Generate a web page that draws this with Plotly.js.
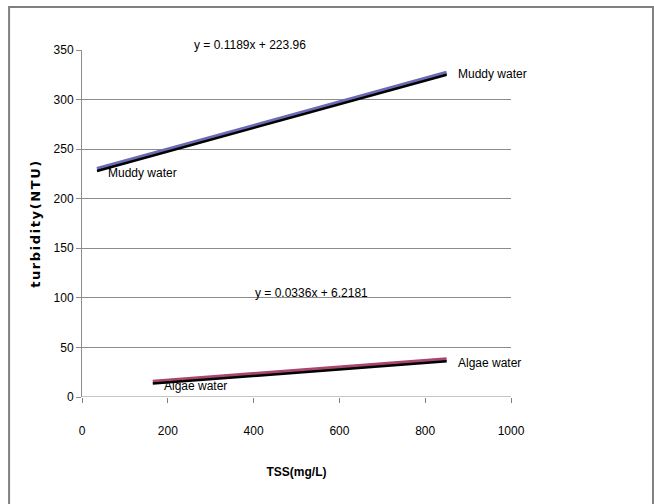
<!DOCTYPE html>
<html>
<head>
<meta charset="utf-8">
<script src="https://cdn.plot.ly/plotly-3.0.1.min.js"></script>
<style>html,body{margin:0;padding:0;background:#fff;}#chart{width:654px;height:504px;}</style>
</head>
<body>
<div id="chart"></div>
<script>
// Data
const muddyX = [35, 850];
const muddyY = [230, 327];
const muddyTrendX = [35, 850];
const muddyTrendY = [228, 325];
const algaeX = [165, 850];
const algaeY = [15.5, 38];
const algaeTrendX = [165, 850];
const algaeTrendY = [13.5, 36];
const muddyEq = "y = 0.1189x + 223.96";
const algaeEq = "y = 0.0336x + 6.2181";
const seriesNames = ["Muddy water", "Algae water"];
const xTicks = [0, 200, 400, 600, 800, 1000];
const yTicks = [0, 50, 100, 150, 200, 250, 300, 350];

const FONT = '"Liberation Sans", Arial, sans-serif';

const traces = [
  {x: muddyX, y: muddyY, mode: 'lines', line: {color: '#6B6BB5', width: 4}, name: seriesNames[0], hoverinfo: 'skip'},
  {x: muddyTrendX, y: muddyTrendY, mode: 'lines', line: {color: '#000000', width: 2.5}, name: 'trend', hoverinfo: 'skip'},
  {x: algaeX, y: algaeY, mode: 'lines', line: {color: '#A8466E', width: 4}, name: seriesNames[1], hoverinfo: 'skip'},
  {x: algaeTrendX, y: algaeTrendY, mode: 'lines', line: {color: '#000000', width: 2.5}, name: 'trend', hoverinfo: 'skip'}
];

const annFont = {family: FONT, size: 12, color: '#000'};
const layout = {
  width: 654, height: 504,
  margin: {l: 82, r: 143, t: 50, b: 107},
  paper_bgcolor: '#fff', plot_bgcolor: '#fff',
  showlegend: false,
  font: {family: FONT, size: 12, color: '#000'},
  xaxis: {
    range: [0, 1000], tickvals: xTicks, ticktext: xTicks.map(String),
    showgrid: false, zeroline: false, showline: false,
    ticks: 'outside', ticklen: 5, tickcolor: '#808080',
    ticklabelstandoff: 18,
    tickfont: {family: FONT, size: 12, color: '#000'},
    title: {text: '<b>TSS(mg/L)</b>', font: {family: FONT, size: 12, color: '#000'}, standoff: 30}
  },
  yaxis: {
    range: [0, 350], tickvals: yTicks, ticktext: yTicks.map(String),
    showgrid: true, gridcolor: '#8c8c8c', gridwidth: 1,
    zeroline: false, showline: true, linecolor: '#8c8c8c', linewidth: 1,
    ticks: 'outside', ticklen: 5, tickcolor: '#8c8c8c',
    tickfont: {family: FONT, size: 12, color: '#000'},
    title: {text: '<b>turbidity(NTU)</b>', font: {family: 'DejaVu Sans, sans-serif', size: 13, color: '#000'}, standoff: 10}
  },
  shapes: [
    {type: 'line', xref: 'x', yref: 'y', x0: 0, x1: 1000, y0: 0, y1: 0, line: {color: '#8c8c8c', width: 1}},
    {type: 'rect', xref: 'paper', yref: 'paper', x0: -0.170, x1: 1.331, y0: -0.4, y1: 1.124, line: {color: '#808080', width: 2}, fillcolor: 'rgba(0,0,0,0)', layer: 'below'}
  ],
  annotations: [
    {x: 392, y: 1.014, xref: 'x', yref: 'paper', text: muddyEq, showarrow: false, font: annFont, xanchor: 'center', yanchor: 'middle'},
    {x: 536, y: 105, xref: 'x', yref: 'y', text: algaeEq, showarrow: false, font: annFont, xanchor: 'center', yanchor: 'middle'},
    {x: 872, y: 326, xref: 'x', yref: 'y', text: seriesNames[0], showarrow: false, font: annFont, xanchor: 'left', yanchor: 'middle'},
    {x: 55, y: 226, xref: 'x', yref: 'y', text: seriesNames[0], showarrow: false, font: annFont, xanchor: 'left', yanchor: 'middle'},
    {x: 872, y: 34.5, xref: 'x', yref: 'y', text: seriesNames[1], showarrow: false, font: annFont, xanchor: 'left', yanchor: 'middle'},
    {x: 186, y: 11, xref: 'x', yref: 'y', text: seriesNames[1], showarrow: false, font: annFont, xanchor: 'left', yanchor: 'middle'}
  ]
};

Plotly.newPlot('chart', traces, layout, {staticPlot: true, displayModeBar: false}).then(function(gd){
  var t = gd.querySelector('.ytitle');
  if (t) { t.style.letterSpacing = '1.6px'; }
});
</script>
</body>
</html>
